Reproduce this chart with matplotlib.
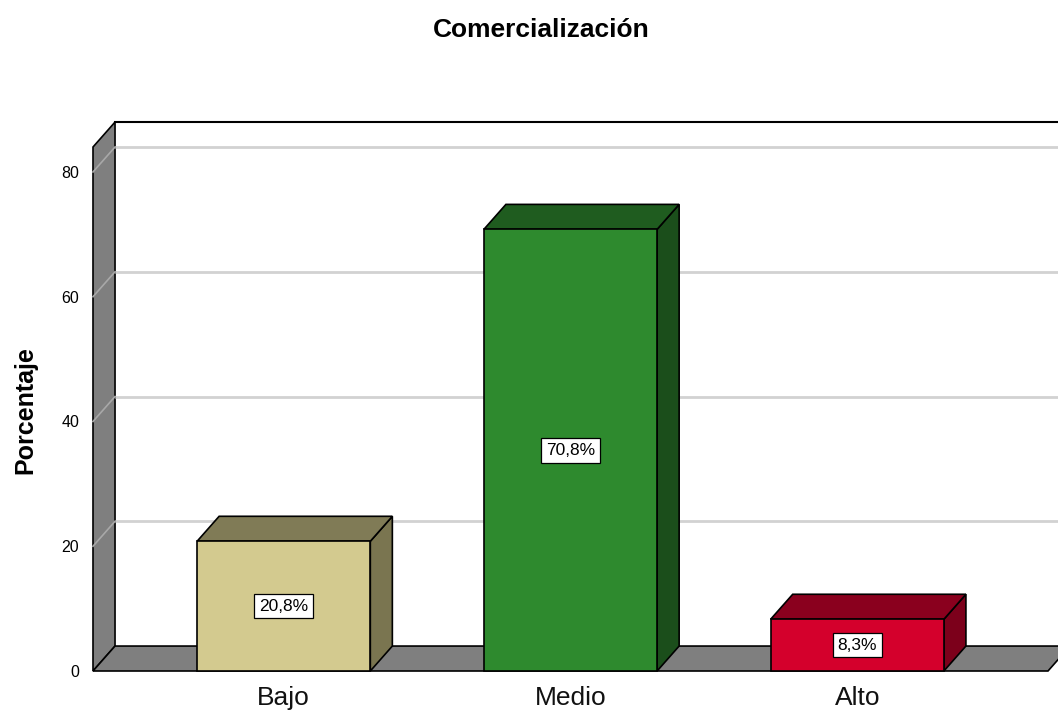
import matplotlib
matplotlib.use("Agg")
import matplotlib.pyplot as plt
from matplotlib.patches import Polygon

# Data
categories = ["Bajo", "Medio", "Alto"]
percentages = [20.8, 70.8, 8.3]
value_labels = ["20,8%", "70,8%", "8,3%"]
yticks = [0, 20, 40, 60, 80]

# Styling
front_colors = ["#D3CA8F", "#2E8A2E", "#D4002C"]
top_colors = ["#807B56", "#1F5C1F", "#8A001E"]
side_colors = ["#7A7550", "#1B4E1B", "#7C001B"]
wall_color = "#7F7F7F"
grid_color = "#D2D2D2"
font = ["Liberation Sans", "DejaVu Sans"]

W, H = 1058, 711
fig = plt.figure(figsize=(W / 100, H / 100), dpi=100)
# front plane of the 3D box
x0, x1 = -0.665, 2.665
y0, y1 = 0, 84
ax = fig.add_axes([93 / W, (H - 671) / H, (1048 - 93) / W, (671 - 147) / H])
ax.set_xlim(x0, x1)
ax.set_ylim(y0, y1)

ddx, ddy = 0.0768, 4.0  # depth offset in data units
bar_w = 0.604

def poly(pts, fc, ec="black", lw=1.2, z=1):
    p = Polygon(pts, closed=True, facecolor=fc, edgecolor=ec, linewidth=lw,
                clip_on=False, zorder=z, joinstyle="miter")
    ax.add_patch(p)
    return p

# left wall
poly([(x0, y0), (x0, y1), (x0 + ddx, y1 + ddy), (x0 + ddx, y0 + ddy)], wall_color, z=1)
# gridlines: back wall and left wall
xr = x1 + 0.5
for v in yticks[1:]:
    ax.plot([x0 + ddx, xr], [v + ddy, v + ddy], color=grid_color, lw=2.0,
            clip_on=False, zorder=1.5, solid_capstyle="butt")
    ax.plot([x0, x0 + ddx], [v, v + ddy], color="#A8A8A8", lw=1.2,
            clip_on=False, zorder=1.5)
# back wall top edge
ax.plot([x0 + ddx, xr], [y1 + ddy, y1 + ddy], color="black", lw=1.5,
        clip_on=False, zorder=2)
# floor
poly([(x0, 0), (x1, 0), (x1 + ddx, ddy), (x0 + ddx, ddy)], wall_color, z=2)

# bars as 3D boxes
for i, (v, fc, tc, sc) in enumerate(zip(percentages, front_colors, top_colors, side_colors)):
    l, r = i - bar_w / 2, i + bar_w / 2
    poly([(r, 0), (r + ddx, ddy), (r + ddx, v + ddy), (r, v)], sc, z=3)
    poly([(l, v), (r, v), (r + ddx, v + ddy), (l + ddx, v + ddy)], tc, z=3)
    poly([(l, 0), (r, 0), (r, v), (l, v)], fc, z=4)
    ax.text(i, v / 2, value_labels[i], ha="center", va="center", fontsize=12.5,
            family=font, zorder=6,
            bbox=dict(boxstyle="square,pad=0.28", facecolor="white",
                      edgecolor="black", linewidth=0.9))

# axes decoration
for s in ax.spines.values():
    s.set_visible(False)
ax.set_xticks(range(len(categories)), categories)
ax.set_yticks(yticks, [str(t) for t in yticks])
ax.tick_params(axis="x", length=0, pad=11, labelsize=19, labelcolor="#111111")
ax.tick_params(axis="y", length=0, pad=10, labelsize=11.5)
for lbl in ax.get_xticklabels() + ax.get_yticklabels():
    lbl.set_family(font)
ax.set_ylabel("Porcentaje", fontsize=18, fontweight="bold", family=font)
ax.yaxis.set_label_coords((37 - 93) / (1048 - 93), 0.5 - (410 - 409) / 524)
ax.patch.set_alpha(0)

fig.text(541 / W, 1 - 30 / H, "Comercialización", ha="center", va="center",
         fontsize=19, fontweight="bold", family=font)

fig.savefig("out.png", dpi=100)
